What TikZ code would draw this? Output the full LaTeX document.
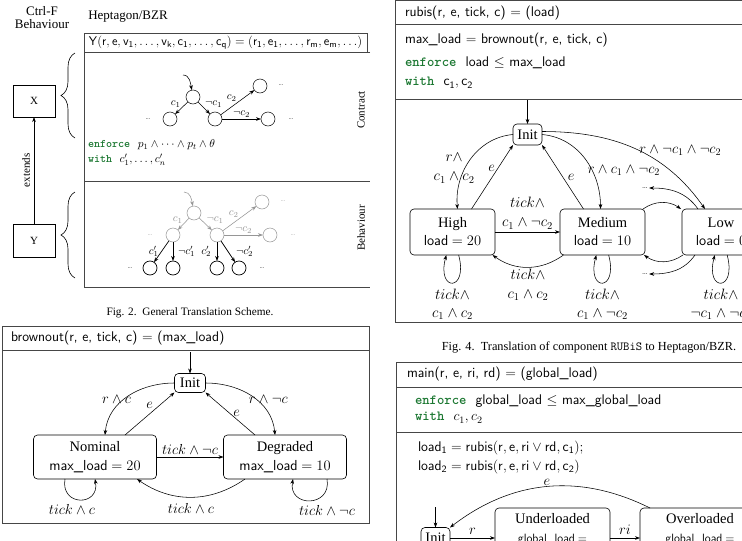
\RequirePackage{fix-cm}
\documentclass[tikz,border=0pt]{standalone}
\usepackage[no-math]{fontspec}
\newfontfamily\tms{Liberation Serif}
\usetikzlibrary{arrows.meta,decorations.pathreplacing}
\definecolor{kwgreen}{RGB}{28,120,50}
\definecolor{frm}{RGB}{70,70,70}
\definecolor{gry}{RGB}{150,150,150}
\newcommand{\kw}[1]{\textcolor{kwgreen}{\ttfamily\bfseries #1}}
\newcommand{\fsz}[1]{\fontsize{#1}{#1}\selectfont}
\begin{document}
\begin{tikzpicture}[x=1pt,y=1pt,
  >={Stealth[length=5pt,width=3.6pt]},
  every node/.style={inner sep=0pt,outer sep=0pt},
  st/.style={draw,rounded corners=4pt,align=center,line width=0.6pt},
  circ/.style={draw,circle,minimum size=14pt,line width=0.5pt},
  tinydots/.style={font=\fsz{7},inner sep=1.5pt},
  conn/.style={->,line width=0.55pt},
  lab/.style={font=\fsz{14.5}},
  lab2/.style={font=\fontsize{15}{19}\selectfont,align=center},
  loopl/.style={font=\fontsize{15}{18}\selectfont,align=center,anchor=north,yshift=-6pt},
  slab/.style={font=\fsz{11}},
  captxt/.style={font=\tms\fsz{11.3}},
  frmline/.style={draw=frm,line width=0.8pt},
  sqbox/.style={draw,line width=0.6pt},
  brc/.style={decorate,decoration={brace,amplitude=14pt},line width=0.6pt},
  hdr/.style={anchor=west,font=\fsz{14}},
]
\useasboundingbox (0,0) rectangle (742,-541);
\clip (0,0) rectangle (742,-541);
\fill[white] (0,0) rectangle (742,-541);

%% ================= Fig. 2 =================
\node[font=\tms\fontsize{13}{13}\selectfont,align=center] (ctrlf) at (42,-17.5) {Ctrl-F\\Behaviour};
\node[font=\tms\fsz{13}] (hept) at (128,-17) {Heptagon/BZR};
\node[sqbox,draw=frm,minimum width=283pt,minimum height=19pt,anchor=north west,font=\fsz{12.6}] (yhdr) at (84,-33)
  {$\mathsf{Y(r,e,v_1,\ldots,v_k,c_1,\ldots,c_q)=(r_1,e_1,\ldots,r_m,e_m,\ldots)}$};
\draw[frmline] (370,-52) -- (84,-52) -- (84,-287) -- (370,-287);
\draw[frmline] (84,-181) -- (370,-181);
\node[rotate=90,font=\tms\fsz{11}] (contr) at (361,-110) {Contract};
\node[rotate=90,font=\tms\fsz{11}] (behav) at (361,-228) {Behaviour};

\node[sqbox,minimum width=42pt,minimum height=32pt,font=\tms\fsz{11}] (X) at (34,-101) {X};
\node[sqbox,minimum width=42pt,minimum height=33pt,font=\tms\fsz{11}] (Y) at (34,-240.5) {Y};
\draw[conn] (Y) -- node[midway,sloped,above=4pt,font=\tms\fsz{11}] {extends} (X);
\draw[brc] (75,-138) -- (75,-53);
\draw[brc] (75,-278) -- (75,-192);

% contract automaton
\node[circ] (c0) at (193,-97) {};
\node[circ] (c1) at (170,-119) {};
\node[circ] (c2) at (215,-119) {};
\node[circ] (c3) at (260,-86) {};
\node[circ] (c4) at (268,-119) {};
\node[tinydots] (cd1) at (148,-119) {\ldots};
\node[tinydots] (cd2) at (281,-85) {\ldots};
\node[tinydots] (cd3) at (291,-119) {\ldots};
\coordinate (cin) at (183,-75);
\draw[conn] (cin) to[out=0,in=100] (c0);
\draw[conn] (c0) -- node[midway,above left=1pt,slab]{$c_1$} (c1);
\draw[conn] (c0) -- node[midway,above right=1pt,slab]{$\neg c_1$} (c2);
\draw[conn] (c2) -- node[midway,above left=1pt,slab]{$c_2$} (c3);
\draw[conn] (c2) -- node[midway,above=2pt,slab]{$\neg c_2$} (c4);
\node[anchor=west,font=\fsz{11.5}] (enf2) at (88,-145) {\kw{enforce}\ \ $p_1\wedge\cdots\wedge p_t\wedge\theta$};
\node[anchor=west,font=\fsz{11.5}] (with2) at (88,-160) {\kw{with}\ \ $c'_1,\ldots,c'_n$};

% behaviour automaton
\begin{scope}[color=gry]
\node[circ] (b0) at (194,-213) {};
\node[circ] (b1) at (173,-235) {};
\node[circ] (b2) at (217,-235) {};
\node[circ] (b3) at (262,-202) {};
\node[circ] (b4) at (270,-235) {};
\node[tinydots] (bd1) at (150,-235) {\ldots};
\node[tinydots] (bd2) at (283,-201) {\ldots};
\node[tinydots] (bd3) at (293,-235) {\ldots};
\coordinate (bin) at (184,-192);
\draw[conn] (bin) to[out=0,in=100] (b0);
\draw[conn] (b0) -- node[midway,above left=1pt,slab]{$c_1$} (b1);
\draw[conn] (b0) -- node[midway,above right=1pt,slab]{$\neg c_1$} (b2);
\draw[conn] (b2) -- node[midway,above left=1pt,slab]{$c_2$} (b3);
\draw[conn] (b2) -- node[midway,above=2pt,slab]{$\neg c_2$} (b4);
\end{scope}
\node[circ,line width=0.7pt] (bb1) at (150,-268) {};
\node[circ,line width=0.7pt] (bb2) at (173,-268) {};
\node[circ,line width=0.7pt] (bb3) at (217,-268) {};
\node[circ,line width=0.7pt] (bb4) at (239,-268) {};
\node[tinydots] (bd4) at (130,-268) {\ldots};
\node[tinydots] (bd5) at (262,-268) {\ldots};
\draw[conn,line width=0.7pt] (b1) -- node[midway,left=3pt,slab]{$c'_1$} (bb1);
\draw[conn,line width=0.7pt] (b1) -- node[midway,right=5pt,slab]{$\neg c'_1$} (bb2);
\draw[conn,line width=0.7pt] (b2) -- node[midway,left=6pt,slab]{$c'_2$} (bb3);
\draw[conn,line width=0.7pt] (b2) -- node[midway,right=8pt,slab]{$\neg c'_2$} (bb4);

\node[captxt] (cap2) at (190,-313) {Fig. 2.\ \ General Translation Scheme.};

%% ================= brownout =================
\draw[frmline] (2,-326) rectangle (369,-523);
\draw[frmline] (2,-350) -- (369,-350);
\node[hdr] (bhdr) at (11,-338) {\textsf{brownout(r, e, tick, c)} $=$ \textsf{(max\_load)}};
\node[st,minimum width=31pt,minimum height=19pt,font=\tms\fsz{14.5}] (bInit) at (190,-383) {Init};
\node[st,minimum width=123pt,minimum height=44pt,font=\tms\fontsize{14.5}{19}\selectfont] (bNom) at (95,-457)
  {Nominal\\\textsf{max\_load} $=20$};
\node[st,minimum width=123pt,minimum height=44pt,font=\tms\fontsize{14.5}{19}\selectfont] (bDeg) at (285,-457)
  {Degraded\\\textsf{max\_load} $=10$};
\coordinate (bIn) at (190,-352);
\draw[conn] (bIn) -- (bInit);
\draw[conn] (bInit.west) to[out=180,in=85] node[pos=0.45,anchor=east,xshift=-1pt,yshift=-6pt,lab] {$r\wedge c$} ([xshift=10pt]bNom.north);
\draw[conn] ([xshift=30pt]bNom.north) -- node[midway,anchor=south,yshift=5pt,lab] {$e$} (bInit.south west);
\draw[conn] (bInit.east) to[out=0,in=95] node[pos=0.45,anchor=west,xshift=1pt,yshift=-6pt,lab] {$r\wedge\neg c$} ([xshift=-10pt]bDeg.north);
\draw[conn] ([xshift=-30pt]bDeg.north) -- node[midway,anchor=west,xshift=3pt,lab] {$e$} (bInit.south east);
\draw[conn] (bNom.east) -- node[midway,anchor=south,yshift=3pt,lab] {$tick\wedge\neg c$} (bDeg.west);
\draw[conn] ([xshift=-40pt]bDeg.south) to[bend left=35] node[midway,anchor=north,yshift=-6pt,lab] {$tick\wedge c$} ([xshift=42pt]bNom.south);
\draw[conn] ([xshift=-30pt]bNom.south) to[out=-100,in=-80,looseness=2.4] node[midway,anchor=north,xshift=-8pt,yshift=-5pt,lab] {$tick\wedge c$} (bNom.south);
\draw[conn] ([xshift=42pt]bDeg.south) to[out=-80,in=-100,looseness=2.2] node[midway,anchor=north,xshift=17pt,yshift=-5pt,lab] {$tick\wedge\neg c$} ([xshift=8pt]bDeg.south);

%% ================= rubis =================
\draw[frmline,line width=1pt] (745,-0.5) -- (395.5,-0.5) -- (395.5,-322) -- (745,-322);
\draw[frmline,line width=1pt] (395.5,-24) -- (745,-24);
\draw[frmline,line width=1pt] (395.5,-99) -- (745,-99);
\node[hdr] (rhdr) at (405,-13) {\textsf{rubis(r, e, tick, c)} $=$ \textsf{(load)}};
\node[hdr] (rl1) at (405,-40) {\textsf{max\_load} $=$ \textsf{brownout(r, e, tick, c)}};
\node[hdr] (rl2) at (405,-63) {\kw{enforce}\ \ \textsf{load} $\leq$ \textsf{max\_load}};
\node[hdr] (rl3) at (405,-83) {\kw{with}\ \ $\mathsf{c_1, c_2}$};

\node[st,minimum width=29pt,minimum height=21pt,font=\tms\fsz{14.5}] (rInit) at (527.5,-134.5) {Init};
\node[st,minimum width=85pt,minimum height=46pt,font=\tms\fontsize{14.5}{18}\selectfont] (High) at (452.5,-232) {High\\\textsf{load} $=20$};
\node[st,minimum width=85pt,minimum height=46pt,font=\tms\fontsize{14.5}{18}\selectfont] (Med) at (602.5,-232) {Medium\\\textsf{load} $=10$};
\node[st,minimum width=78pt,minimum height=46pt,font=\tms\fontsize{14.5}{18}\selectfont] (Low) at (721,-232) {Low\\\textsf{load} $=0$};
\node[font=\fsz{9},inner sep=1pt] (rdU) at (645,-188) {\ldots};
\node[font=\fsz{9},inner sep=1pt] (rdL) at (645,-274) {\ldots};
\coordinate (rIn) at (527.5,-100);
\draw[conn] (rIn) -- (rInit);
\draw[conn] (rInit.west) to[out=185,in=95] node[pos=0.5,anchor=east,xshift=4pt,yshift=-9pt,lab2] {$r\wedge$\\$c_1\wedge c_2$} ([xshift=5pt]High.north);
\draw[conn] ([xshift=19pt]High.north) -- node[pos=0.64,anchor=east,xshift=-3pt,lab] {$e$} (rInit.south west);
\draw[conn] (rInit.east) to[out=-5,in=90] node[pos=0.55,anchor=west,xshift=0pt,yshift=-7pt,lab] {$r\wedge c_1\wedge\neg c_2$} ([xshift=-2pt]Med.north);
\draw[conn] ([xshift=-19pt]Med.north) -- node[midway,anchor=west,xshift=5pt,lab] {$e$} (rInit.south east);
\draw[conn] ([yshift=3pt]rInit.east) to[out=0,in=125] node[pos=0.6,anchor=south west,xshift=-11pt,yshift=1pt,lab] {$r\wedge\neg c_1\wedge\neg c_2$} ([xshift=-16pt]Low.north);
\draw[conn] (High.east) -- node[midway,anchor=south,yshift=3pt,lab2] {$tick\wedge$\\$c_1\wedge\neg c_2$} (Med.west);
\draw[conn] ([xshift=-39pt]Med.south) to[bend left=36] node[midway,anchor=north,yshift=-2pt,lab2] {$tick\wedge$\\$c_1\wedge c_2$} ([xshift=40pt]High.south);
\draw[conn] ([xshift=-2pt]Med.north east) to[bend left=35] ([xshift=-1pt]Low.north west);
\draw[conn] ([xshift=1pt]Low.south west) to[bend left=35] ([xshift=-1pt]Med.south east);
\draw[conn] ([xshift=-23pt]Low.north) to[out=125,in=0] (rdU.east);
\draw[conn] ([xshift=-26pt]Low.south) to[out=-125,in=0] (rdL.east);
\draw[conn] (High) to[loop below] node[midway,loopl] {$tick\wedge$\\$c_1\wedge c_2$} (High);
\draw[conn] (Med) to[loop below] node[midway,loopl] {$tick\wedge$\\$c_1\wedge\neg c_2$} (Med);
\draw[conn] (Low) to[loop below] node[midway,loopl] {$tick\wedge$\\$\neg c_1\wedge\neg c_2$} (Low);

\node[captxt,font=\tms\fsz{12.3}] (cap4) at (589,-347) {Fig. 4.\ \ Translation of component \texttt{RUBiS} to Heptagon/BZR.};

%% ================= main =================
\draw[frmline,line width=1pt] (745,-362) -- (396,-362) -- (396,-545);
\draw[frmline,line width=1pt] (396,-387) -- (745,-387);
\draw[frmline,line width=1pt] (396,-432) -- (745,-432);
\node[hdr] (mhdr) at (407,-374) {\textsf{main(r, e, ri, rd)} $=$ \textsf{(global\_load)}};
\node[hdr] (ml1) at (415,-401) {\kw{enforce}\ \ \textsf{global\_load} $\leq$ \textsf{max\_global\_load}};
\node[hdr] (ml2) at (415,-418) {\kw{with}\ \ $c_1,c_2$};
\node[hdr] (ml3) at (418,-448) {$\mathsf{load_1}=\mathsf{rubis}(\mathsf{r},\mathsf{e},\mathsf{ri}\vee\mathsf{rd},\mathsf{c_1});$};
\node[hdr] (ml4) at (418,-467) {$\mathsf{load_2}=\mathsf{rubis}(\mathsf{r},\mathsf{e},\mathsf{ri}\vee\mathsf{rd},\mathsf{c_2})$};

\node[st,minimum width=29pt,minimum height=21pt,font=\tms\fsz{14.5}] (mInit) at (435.5,-538) {Init};
\node[st,minimum width=115pt,minimum height=60pt,anchor=north,font=\tms\fontsize{14.5}{19}\selectfont] (Under) at (552.5,-508)
  {Underloaded\\{\fontsize{12}{12}\selectfont\textsf{global\_load} $=$}\\[2pt]};
\node[st,minimum width=120pt,minimum height=60pt,anchor=north,font=\tms\fontsize{14.5}{19}\selectfont] (Over) at (700,-508)
  {Overloaded\\{\fontsize{12}{12}\selectfont\textsf{global\_load} $=$}\\[2pt]};
\coordinate (mIn) at (435.5,-507);
\draw[conn] (mIn) -- (mInit);
\draw[conn] (mInit.east) -- node[midway,anchor=south,yshift=4pt,lab] {$r$} (mInit.east -| Under.west);
\draw[conn] (mInit.east -| Under.east) -- node[midway,anchor=south,yshift=4pt,lab] {$ri$} (mInit.east -| Over.west);
\draw[conn] ([xshift=10pt]Over.north west) to[bend right=32] node[midway,anchor=south,yshift=1pt,lab] {$e$} (mInit.north east);
\end{tikzpicture}
\end{document}
